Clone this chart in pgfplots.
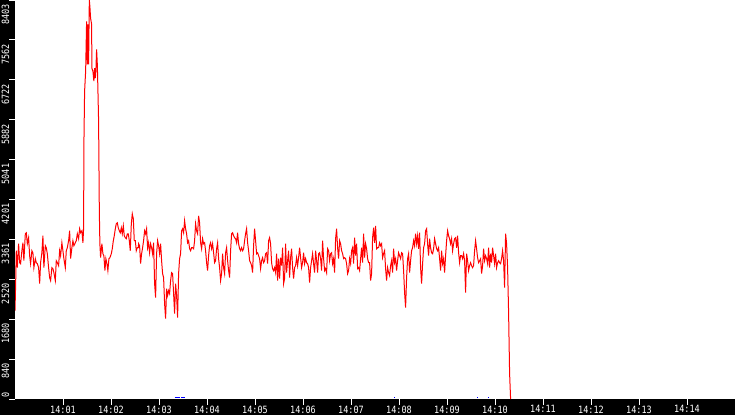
\documentclass[border=0pt]{standalone}
\usepackage{fontspec}
\setmonofont[FakeStretch=0.85]{DejaVu Sans Mono}
\usepackage{pgfplots}
\pgfplotsset{compat=1.18}
\begin{document}
\begin{tikzpicture}[x=1pt,y=1pt]
\path[use as bounding box, fill=black] (0,0) rectangle (735,415);
\begin{axis}[
  at={(15pt,16pt)}, anchor=south west,
  width=720pt, height=399pt, scale only axis,
  xmin=0, xmax=900, ymin=0, ymax=8403,
  axis background/.style={fill=white},
  axis line style={draw=none},
  tick pos=left, tick align=outside,
  major tick length=5.5pt,
  tick style={white, line width=1pt},
  xtick={60,120,...,840},
  xticklabels={14:01,14:02,14:03,14:04,14:05,14:06,14:07,14:08,14:09,14:10,14:11,14:12,14:13,14:14},
  ytick={840,1680,2520,3361,4201,5041,5882,6722,7562,8403},
  yticklabels={840,1680,2520,3361,4201,5041,5882,6722,7562,8403},
  extra y ticks={0},
  extra y tick labels={0},
  extra y tick style={yticklabel style={xshift=10.5pt}},
  ticklabel style={font=\ttfamily\fontsize{10}{11}\selectfont, text=white, inner sep=0pt},
  xticklabel style={anchor=north, yshift=-1pt},
  yticklabel style={rotate=90, anchor=south east, xshift=-4pt},
]
% throughput samples, x in seconds after 14:00
\addplot[red, line width=1pt] coordinates {
(0,1863)(0.8,2407)(1.6,3123)(2.9,2766)(4.5,3270)(5.8,2871)(7.0,2850)(8.6,3123)(9.9,3291)(11.1,2913)
(12.9,3480)(14.1,3501)(15.4,3270)(17.0,3396)(18.3,3018)(19.5,2850)(21.1,3123)(22.4,3081)(23.6,2766)(25.4,2955)
(26.6,2871)(27.9,2850)(29.5,2766)(30.8,2430)(32.0,2871)(33.6,3081)(34.9,3438)(36.1,2766)(37.9,3228)(39.1,3186)
(40.4,3060)(42.0,2766)(43.3,2556)(44.5,2493)(46.1,2766)(47.4,2745)(48.6,2661)(50.4,2493)(51.6,2913)(52.9,2871)
(54.5,2808)(55.8,3123)(57.0,3018)(58.6,3291)(59.9,3123)(61.1,2955)(62.9,2766)(64.1,3123)(65.4,3186)(67.0,3333)
(68.3,3543)(69.5,2955)(71.1,3186)(72.4,3333)(73.6,3228)(75.4,3291)(76.6,3333)(77.9,3480)(79.5,3375)(80.8,3585)
(82.0,3501)(83.6,3543)(84.9,3291)(85.8,3606)
(86.1,5328)(87.0,6483)(88.3,6903)(89.5,7953)(90.4,7050)(91.1,7890)(92.0,7050)(92.9,8403)(93.6,8268)(94.5,8016)
(95.8,7890)(96.1,6966)(97.4,6903)(98.6,6693)(99.5,6966)(100.4,6756)(101.1,6903)(102.0,7365)(102.9,7050)(103.6,6546)
(104.5,5853)(105.4,3963)(106.1,3270)(107.0,2976)
(108.6,3270)(109.9,3060)(111.1,3018)(112.4,2703)(113.6,2955)(114.9,2850)(116.1,2703)(117.4,2955)(118.6,2976)(120.4,3060)
(121.6,3165)(122.9,3333)(124.1,3438)(125.4,3585)(126.6,3690)(127.9,3711)(129.1,3606)(130.4,3543)(131.6,3501)(132.9,3606)
(134.1,3480)(135.4,3648)(136.6,3438)(137.9,3396)(139.1,3375)(140.4,3480)(141.6,3480)(142.9,3333)(144.1,3123)(145.4,3690)
(146.6,3900)(147.9,3795)(149.1,3333)(150.4,3333)(151.6,3123)(152.9,3186)(154.1,3186)
(154.5,3270)(155.75,3228)(157,2850)(158.25,3060)(159.5,3186)(160.75,3333)(162,3543)(163.25,3480)(164.5,3585)(165.75,3186)
(167,3291)(168.25,3081)(169.5,3270)(170.75,3186)(172,3060)(173.25,3291)(174.5,2430)(175.75,2136)(177,3060)(178.25,3333)
(179.5,3228)(180.75,3060)(182,3270)(183.25,2913)(184.5,2640)(185.75,2556)(187,2010)(188.25,1695)(189.5,2325)(190.75,2178)
(192,2283)(193.25,2220)(194.5,2493)(195.75,2661)(197,2640)(198.25,2220)(199.5,1800)(200.75,2430)(202,2178)(203.25,1716)
(204.5,2640)(205.75,2955)(207,3060)(208.25,3543)(209.5,3585)(210.75,3501)(212,3753)(213.25,3585)(214.5,3480)(215.75,3291)
(217,3333)(218.25,3165)(219.5,3123)(220.75,3186)(222,3186)(223.25,3165)(224.5,3333)(225.75,3690)(227,3543)(228.25,3480)
(229.5,3858)(230.75,3711)(232,3291)(233.25,3165)(234.5,3375)(235.75,3270)(237,3291)(238.25,3123)(239.5,2871)(240.75,2703)
(242,3018)(243.25,3228)(244.5,3291)(245.75,3165)(247,3270)(248.25,3081)(249.5,2871)(250.75,2913)(252,3165)(253.25,3291)
(254.5,2955)(255.75,2766)(257,2493)(258.25,2640)(259.5,3060)(260.75,2766)(262,2640)(263.25,3081)(264.5,3186)(265.75,2913)
(267,2703)(268.25,2556)(269.5,3123)(270.75,3480)(272,3501)(273.25,3438)(274.5,3396)(275.75,3375)(277,3291)(278.25,3501)
(279.5,3270)(280.75,3165)(282,3123)(283.25,3186)(284.5,3123)(285.75,3165)(287,3333)(288.25,3480)(289.5,3585)(290.75,3291)
(292,3123)(293.25,2913)(294.5,2871)(295.75,2808)(297,2661)(298.25,3228)(299.5,3585)(300.75,3333)(302,3060)(303.25,3081)
(304.5,3018)(305.75,2955)(307,2745)(308.25,2913)(309.5,2976)(310.75,2871)(312,2913)(313.25,3060)(314.5,3081)(315.75,2850)
(317,3333)(318.25,3396)(319.5,3270)(320.75,2871)(322,2745)(323.25,2703)(324.5,2766)(325.75,2661)(327,3060)(328.25,2493)
(329.5,2955)(330.75,2535)(332,2976)(333.25,2808)(334.5,3186)(335.75,2430)(337,2535)(338.25,3270)(339.5,2661)(340.75,2913)
(342,3123)(343.25,2556)(344.5,2976)(345.75,3165)(347,2766)(348.25,2535)(349.5,2766)(350.75,2808)(352,2976)(353.25,2808)
(354.5,2976)(355.75,3186)(357,2976)(358.25,2766)(359.5,2871)(360.75,3081)(362,2850)(363.25,2955)(364.5,2871)(365.75,2850)
(367,2766)(368.25,2451)(369.5,2766)(370.75,2913)(372,3060)(373.25,2850)(374.5,2661)(375.75,3123)(377,2913)(378.25,2661)
(379.5,3060)(380.75,3081)(382,2955)(383.25,2703)(384.5,3333)(385.75,2955)(387,2703)(388.25,2745)(389.5,2661)(390.75,3165)
(392,3123)(393.25,2913)(394.5,3060)(395.75,3081)(397,2850)(398.25,2955)(399.5,2661)(400.75,3375)(402,3585)(403.25,3186)
(404.5,2955)(405.75,3333)(407,3270)(408.25,3123)(409.5,3060)(410.75,2955)(412,2976)(413.25,2955)(414.5,2850)(415.75,2640)
(417,2703)(418.25,2955)(419.5,2850)(420.75,3123)(422,3186)(423.25,2850)(424.5,3396)(425.75,3018)(427,3270)(428.25,2745)
(429.5,2766)(430.75,2703)(432,2955)(433.25,3186)(434.5,2871)(435.75,3480)(437,2976)(438.25,3270)(439.5,3165)(440.75,2955)
(442,2871)(443.25,2871)(444.5,2493)(445.75,2640)(447,3396)(448.25,3606)(449.5,3291)(450.75,3648)(452,3165)(453.25,3186)
(454.5,3186)(455.75,3291)(457,3228)(458.25,3270)(459.5,2976)(460.75,3060)(462,3123)(463.25,2745)(464.5,2493)(465.75,2766)
(467,2661)(468.25,2598)(469.5,2808)(470.75,2913)(472,2661)(473.25,3165)(474.5,2871)(475.75,2955)(477,2703)(478.25,2913)
(479.5,3081)(480.75,3018)(482,2955)(483.25,3081)(484.5,3060)(485.75,2703)(487,2241)(488.25,1926)(489.5,2556)(490.75,2955)
(492,3060)(493.25,2661)(494.5,2913)(495.75,3123)(497,3186)(498.25,3333)(499.5,3228)(500.75,3480)(502,3270)(503.25,3438)
(504.5,3165)(505.75,3501)(507,2766)(508.25,2430)(509.5,2850)(510.75,3186)(512,3270)(513.25,3543)(514.5,3585)(515.75,3270)
(517,3018)(518.25,3375)(519.5,3186)(520.75,3081)(522,3060)(523.25,3165)(524.5,3375)(525.75,3270)(527,3165)(528.25,3123)
(529.5,3186)(530.75,2955)(532,2703)(533.25,3123)(534.5,2850)(535.75,2955)(537,2661)(538.25,3018)(539.5,3333)(540.75,3543)
(542,3438)(543.25,3375)(544.5,3270)(545.75,3375)(547,3123)(548.25,3270)(549.5,3375)(550.75,3396)(552,3186)(553.25,3438)
(554.5,3081)(555.75,2871)(557,3018)(558.25,3018)(559.5,2955)(560.75,3060)(562,2913)(563.25,2241)(564.5,3060)(565.75,2913)
(567,2703)(568.25,2808)(569.5,2871)(570.75,2808)(572,2766)(573.25,2808)(574.5,3123)(575.75,3333)(577,3165)(578.25,2976)
(579.5,2871)(580.75,2913)(582,2955)(583.25,2640)(584.5,2808)(585.75,3165)(587,2913)(588.25,3018)(589.5,2955)(590.75,2850)
(592,3186)(593.25,2766)(594.5,3060)(595.75,2871)(597,3186)(598.25,3018)(599.5,2850)(600.75,3060)(602,2766)(603.25,2871)
(604.5,2913)(605.75,2871)(607,2850)(608.25,2955)(609.5,3123)(610.75,2913)(612,2346)(613.25,3480)(614.5,3270)(615.75,2766)
(617,1821)(618.25,540)(619.5,0)
};
% second series, only just above zero
\addplot[blue, line width=1pt, unbounded coords=jump] coordinates {
(199.5,25)(206,25)(207,nan)(208,25)(213,25)(214,nan)(474,25)(475.2,25)(476,nan)(578,25)(579.3,25)(580,nan)(591.5,25)(592.8,25)
};
\end{axis}
\end{tikzpicture}
\end{document}
